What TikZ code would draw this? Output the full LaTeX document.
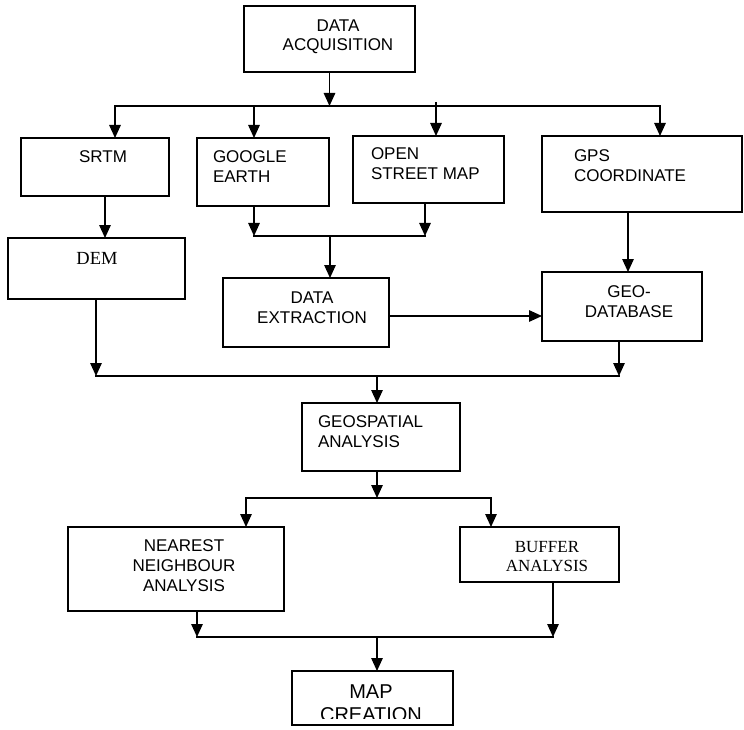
\documentclass[tikz,border=0pt]{standalone}
\usepackage{fontspec}
\setmainfont{Liberation Sans}
\newfontfamily\serifft{Liberation Serif}
\usetikzlibrary{arrows.meta}
\newcommand\mycstack[1]{\vtop{\halign{\hfil##\hfil\cr#1\crcr}}}
\newcommand\mylstack[1]{\vtop{\halign{##\hfil\cr#1\crcr}}}
\begin{document}
\begin{tikzpicture}[x=1pt,y=-1pt,
  box/.style={draw, line width=2pt, inner sep=0pt, outer sep=0pt, anchor=north west},
  lbl/.style={inner sep=0pt, outer sep=0pt, font=\fontsize{17}{20}\selectfont},
  ln/.style={line width=1.4pt, line cap=rect},
  arr/.style={line width=1.4pt, -{Triangle[length=13pt,width=11.5pt]}}]
\useasboundingbox (0,0) rectangle (744,730);
\fill[white] (0,0) rectangle (744,730);

% boxes
\node[box, minimum width=171pt, minimum height=66pt] (acq) at (244,6) {};
\node[box, minimum width=148pt, minimum height=58pt] (srtm) at (21,138) {};
\node[box, minimum width=132pt, minimum height=68pt] (google) at (197,138) {};
\node[box, minimum width=151pt, minimum height=67pt] (osm) at (353,136) {};
\node[box, minimum width=200pt, minimum height=76pt] (gps) at (542,136) {};
\node[box, minimum width=177pt, minimum height=61pt] (dem) at (8,238) {};
\node[box, minimum width=166pt, minimum height=69pt] (dext) at (223,278) {};
\node[box, minimum width=160pt, minimum height=69pt] (geodb) at (542,272) {};
\node[box, minimum width=158pt, minimum height=68pt] (geosp) at (302,403) {};
\node[box, minimum width=216pt, minimum height=84pt] (nna) at (68,527) {};
\node[box, minimum width=159pt, minimum height=55pt] (buffer) at (460,527) {};
\node[box, minimum width=161pt, minimum height=54pt] (map) at (292,671) {};

% texts
\node[lbl, anchor=base] (tacq) at (338,32) {\baselineskip=18.5pt\mycstack{DATA\cr ACQUISITION}};
\node[lbl, anchor=base] (tsrtm) at (103,163) {SRTM};
\node[lbl, anchor=base west] (tgoogle) at (213,163) {\mylstack{GOOGLE\cr EARTH}};
\node[lbl, anchor=base west] (tosm) at (371,160) {\mylstack{OPEN\cr STREET MAP}};
\node[lbl, anchor=base west] (tgps) at (574,162) {\mylstack{GPS\cr COORDINATE}};
\node[lbl, anchor=base, font=\serifft\fontsize{18.5}{20}\selectfont] (tdem) at (97,264) {DEM};
\node[lbl, anchor=base] (tdext) at (312,303) {\mycstack{DATA\cr EXTRACTION}};
\node[lbl, anchor=base] (tgeodb) at (629,297) {\mycstack{GEO-\cr DATABASE}};
\node[lbl, anchor=base west] (tgeosp) at (318,427) {\baselineskip=20.5pt\mylstack{GEOSPATIAL\cr ANALYSIS}};
\node[lbl, anchor=base] (tnna) at (184,551) {\mycstack{NEAREST\cr NEIGHBOUR\cr ANALYSIS}};
\node[lbl, anchor=base, font=\serifft\fontsize{17}{19}\selectfont] (tbuf) at (547,552) {\mycstack{BUFFER\cr ANALYSIS}};
\begin{scope}
\clip (292,671) rectangle (453,718);
\node[lbl, anchor=base, font=\fontsize{20}{23}\selectfont] (tmap) at (371,698) {\mycstack{MAP\cr CREATION}};
\end{scope}

% junction coordinates
\coordinate (j1L) at (115,106);
\coordinate (j1G) at (254,106);
\coordinate (j1O) at (436,102);
\coordinate (j1R) at (660,106);
\coordinate (xs) at (105,0);
\coordinate (j2L) at (254,236);
\coordinate (j2R) at (425,236);
\coordinate (j2M) at (330,236);
\coordinate (y3) at (0,316);
\coordinate (xg) at (628,0);
\coordinate (j4L) at (96,376);
\coordinate (j4R) at (619,376);
\coordinate (j4M) at (377,376);
\coordinate (j5L) at (246,498);
\coordinate (j5R) at (491,498);
\coordinate (j5M) at (377,498);
\coordinate (j6L) at (197,637);
\coordinate (j6R) at (553,637);
\coordinate (j6M) at (377,637);

% connectors
\draw[arr] (acq.south) -- (acq.south |- j1L);
\draw[ln] (j1L) -- (j1R);
\draw[arr] (j1L) -- (j1L |- srtm.north);
\draw[arr] (j1G) -- (j1G |- google.north);
\draw[arr] (j1O) -- (j1O |- osm.north);
\draw[arr] (j1R) -- (j1R |- gps.north);

\draw[arr] (srtm.south -| xs) -- (dem.north -| xs);

\draw[arr] (google.south -| j2L) -- (j2L);
\draw[arr] (osm.south -| j2R) -- (j2R);
\draw[ln] (j2L) -- (j2R);
\draw[arr] (j2M) -- (j2M |- dext.north);

\draw[arr] (dext.east |- y3) -- (geodb.west |- y3);
\draw[arr] (gps.south -| xg) -- (geodb.north -| xg);

\draw[arr] (dem.south -| j4L) -- (j4L);
\draw[arr] (geodb.south -| j4R) -- (j4R);
\draw[ln] (j4L) -- (j4R);
\draw[arr] (j4M) -- (j4M |- geosp.north);

\draw[arr] (geosp.south -| j5M) -- (j5M);
\draw[ln] (j5L) -- (j5R);
\draw[arr] (j5L) -- (j5L |- nna.north);
\draw[arr] (j5R) -- (j5R |- buffer.north);

\draw[arr] (nna.south -| j6L) -- (j6L);
\draw[arr] (buffer.south -| j6R) -- (j6R);
\draw[ln] (j6L) -- (j6R);
\draw[arr] (j6M) -- (j6M |- map.north);
\end{tikzpicture}
\end{document}
